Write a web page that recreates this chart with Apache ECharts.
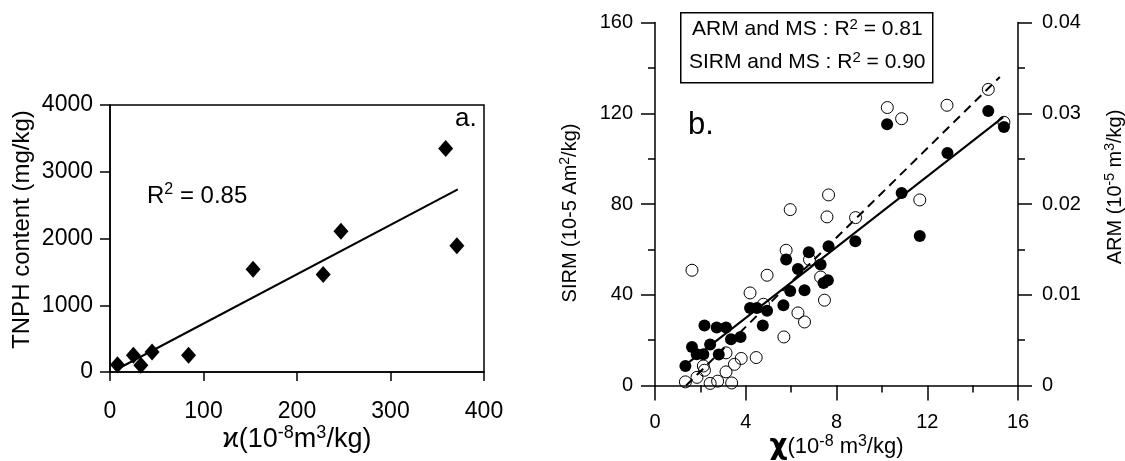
<!DOCTYPE html>
<html>
<head>
<meta charset="utf-8">
<script src="https://cdn.jsdelivr.net/npm/echarts@6/dist/echarts.min.js"></script>
<style>
  html, body { margin: 0; padding: 0; background: #fff; }
  #main { width: 1125px; height: 461px; }
</style>
</head>
<body>
<div id="main"></div>
<script>
// panel a: susceptibility vs TNPH
var kappaA = [8, 25, 33, 45, 84, 153, 228, 247, 359, 371];
var tnph = [110, 250, 100, 300, 250, 1540, 1460, 2110, 3350, 1890];
var fitAX = [8, 372];
var fitAY = [45, 2735];

// panel b: chi vs SIRM (filled) and ARM (open)
var chiSirm = [1.34, 1.63, 1.84, 2.13, 2.18, 2.43, 2.81, 2.72, 3.13, 3.35, 3.77, 4.19, 4.49, 4.94, 4.75, 5.66,
  5.78, 5.96, 6.30, 6.59, 6.78, 7.30, 7.43, 7.62, 7.65, 8.83, 11.67, 10.23, 10.87, 12.89, 14.69, 15.38];
var sirm = [8.6, 17.0, 13.8, 13.8, 26.4, 18.1, 13.7, 25.6, 25.6, 20.4, 21.4, 34.2, 34.2, 32.9, 26.4, 35.4,
  55.5, 41.7, 51.4, 42.0, 58.7, 53.3, 45.2, 46.4, 61.4, 63.6, 65.9, 115.1, 84.8, 102.5, 121.0, 113.9];
var chiArm = [1.63, 1.34, 1.85, 2.13, 2.18, 2.43, 2.76, 3.13, 3.13, 3.38, 3.50, 3.80, 4.46, 4.19, 4.78, 4.94,
  5.68, 5.78, 5.96, 6.30, 6.59, 6.81, 7.30, 7.47, 7.58, 8.84, 11.67, 7.65, 10.24, 10.87, 12.87, 14.69, 15.38];
var arm = [0.0127, 0.0004, 0.0009, 0.00215, 0.00168, 0.00023, 0.00048, 0.0015, 0.0036, 0.00028, 0.00233, 0.00298,
  0.00308, 0.0102, 0.00895, 0.01215, 0.00535, 0.0149, 0.01938, 0.008, 0.007, 0.01388, 0.01195, 0.0094, 0.01858,
  0.0185, 0.02045, 0.021, 0.03063, 0.0294, 0.03088, 0.03263, 0.029];
var fitSirmX = [1.5, 15.35];
var fitSirmY = [10.3, 118.3];
var fitArmX = [1.37, 15.2];
var fitArmY = [0, 0.034];

var xTicksA = [0, 400, 100];
var yTicksA = [0, 4000, 1000];
var xTicksB = [0, 16, 4];
var sirmTicks = [0, 160, 40];
var armTicks = [0, 0.04, 0.01];

function pairs(xs, ys) {
  return xs.map(function (x, i) { return [x, ys[i]]; });
}

var font = 'Liberation Sans, Arial, sans-serif';
var black = '#000';

var supRich = function (size, supSize, chiSize) {
  return {
    n: { fontSize: size, fontFamily: font, color: black, lineHeight: size + 4 },
    sup: { fontSize: supSize, fontFamily: font, color: black, verticalAlign: 'top', lineHeight: supSize },
    chi: { fontSize: chiSize || size, fontWeight: 'bold', fontFamily: 'DejaVu Sans, sans-serif', color: black, lineHeight: size + 4 }
  };
};

var chart = echarts.init(document.getElementById('main'));

var option = {
  animation: false,
  backgroundColor: '#fff',
  textStyle: { fontFamily: font, color: black },
  grid: [
    { left: 110, top: 105, width: 374, height: 267, outerBoundsMode: 'none', containLabel: false,
      show: true, borderColor: black, borderWidth: 1.5, backgroundColor: 'transparent' },
    { left: 655, top: 22.5, width: 363, height: 363, outerBoundsMode: 'none', containLabel: false }
  ],
  xAxis: [
    {
      gridIndex: 0, type: 'value', min: xTicksA[0], max: xTicksA[1], interval: xTicksA[2],
      axisLine: { lineStyle: { color: black, width: 1.5 } },
      axisTick: { length: 9, lineStyle: { color: black, width: 1.5 } },
      splitLine: { show: false },
      axisLabel: { fontSize: 23, color: black, margin: 28, fontFamily: font },
      name: '{n|ϰ(10}{sup|-8}{n|m}{sup|3}{n|/kg)}',
      nameLocation: 'middle', nameGap: 52, nameMoveOverlap: false,
      nameTextStyle: { rich: supRich(27, 18, 27) }
    },
    {
      gridIndex: 1, type: 'value', min: xTicksB[0], max: xTicksB[1], interval: xTicksB[2],
      axisLine: { lineStyle: { color: black, width: 1.5 } },
      axisTick: { length: 15, lineStyle: { color: black, width: 1.5 } },
      minorTick: { show: true, splitNumber: 2, length: 7, lineStyle: { color: black, width: 1.5 } },
      splitLine: { show: false },
      axisLabel: { fontSize: 20, color: black, margin: 27, fontFamily: font },
      name: '{chi|χ}{n|(10}{sup|-8}{n| m}{sup|3}{n|/kg)}',
      nameLocation: 'middle', nameGap: 48, nameMoveOverlap: false,
      nameTextStyle: { rich: supRich(22, 16, 28) }
    }
  ],
  yAxis: [
    {
      gridIndex: 0, type: 'value', min: yTicksA[0], max: yTicksA[1], interval: yTicksA[2],
      axisLine: { lineStyle: { color: black, width: 1.5 } },
      axisTick: { length: 10, lineStyle: { color: black, width: 1.5 } },
      splitLine: { show: false },
      axisLabel: { fontSize: 23, color: black, margin: 17, fontFamily: font, formatter: function (v) { return String(v); } },
      name: 'TNPH content (mg/kg)',
      nameLocation: 'middle', nameGap: 76, nameMoveOverlap: false,
      nameTextStyle: { fontSize: 24, color: black, fontFamily: font, padding: [0, 0, 0, 18] }
    },
    {
      gridIndex: 1, type: 'value', position: 'left', min: sirmTicks[0], max: sirmTicks[1], interval: sirmTicks[2],
      axisLine: { lineStyle: { color: black, width: 1.5 } },
      axisTick: { length: 14, lineStyle: { color: black, width: 1.5 } },
      minorTick: { show: true, splitNumber: 2, length: 7, lineStyle: { color: black, width: 1.5 } },
      splitLine: { show: false },
      axisLabel: { fontSize: 20, color: black, margin: 22, fontFamily: font },
      name: '{n|SIRM (10-5 Am}{sup|2}{n|/kg)}',
      nameLocation: 'middle', nameGap: 73, nameMoveOverlap: false,
      nameTextStyle: { rich: supRich(20, 14), padding: [0, 18, 0, 0] }
    },
    {
      gridIndex: 1, type: 'value', position: 'right', min: armTicks[0], max: armTicks[1], interval: armTicks[2],
      axisLine: { lineStyle: { color: black, width: 1.5 } },
      axisTick: { length: 14, lineStyle: { color: black, width: 1.5 } },
      minorTick: { show: true, splitNumber: 2, length: 7, lineStyle: { color: black, width: 1.5 } },
      splitLine: { show: false },
      axisLabel: {
        fontSize: 20, color: black, margin: 24, fontFamily: font,
        formatter: function (v) { return v === 0 ? '0' : v.toFixed(2); }
      },
      name: '{n|ARM (10}{sup|-5}{n| m}{sup|3}{n|/kg)}',
      nameLocation: 'middle', nameGap: 85, nameMoveOverlap: false,
      nameTextStyle: { rich: supRich(20, 14), padding: [0, 0, 0, 34] }
    }
  ],
  graphic: [
    {
      type: 'text', left: 147, top: 182,
      style: {
        text: '{n|R}{sup|2}{n| = 0.85}',
        rich: supRich(24, 16)
      }
    },
    {
      type: 'text', left: 455, top: 106,
      style: { text: 'a.', fontSize: 26, fontFamily: font, fill: black }
    },
    {
      type: 'text', left: 688, top: 110,
      style: { text: 'b.', fontSize: 31, fontFamily: font, fill: black }
    },
    {
      type: 'rect', left: 680, top: 12, z: 10,
      shape: { width: 252, height: 70 },
      style: { fill: '#fff', stroke: black, lineWidth: 1.5 }
    },
    {
      type: 'text', left: 692, top: 17, z: 11,
      style: { text: '{n|ARM and MS : R}{sup|2}{n| = 0.81}', rich: supRich(21, 15) }
    },
    {
      type: 'text', left: 689, top: 50, z: 11,
      style: { text: '{n|SIRM and MS : R}{sup|2}{n| = 0.90}', rich: supRich(21, 15) }
    }
  ],
  series: [
    {
      name: 'TNPH', type: 'scatter', xAxisIndex: 0, yAxisIndex: 0,
      symbol: 'diamond', symbolSize: [15, 17],
      itemStyle: { color: black, opacity: 1 },
      data: pairs(kappaA, tnph)
    },
    {
      name: 'TNPH fit', type: 'line', xAxisIndex: 0, yAxisIndex: 0,
      showSymbol: false, symbol: 'none',
      lineStyle: { color: black, width: 2 },
      data: pairs(fitAX, fitAY)
    },
    {
      name: 'ARM', type: 'scatter', xAxisIndex: 1, yAxisIndex: 2,
      symbol: 'circle', symbolSize: 12,
      itemStyle: { color: 'rgba(255,255,255,0)', borderColor: black, borderWidth: 1, opacity: 1 },
      data: pairs(chiArm, arm)
    },
    {
      name: 'SIRM', type: 'scatter', xAxisIndex: 1, yAxisIndex: 1,
      symbol: 'circle', symbolSize: 12,
      itemStyle: { color: black, opacity: 1 },
      data: pairs(chiSirm, sirm)
    },
    {
      name: 'SIRM fit', type: 'line', xAxisIndex: 1, yAxisIndex: 1,
      showSymbol: false, symbol: 'none',
      lineStyle: { color: black, width: 2 },
      data: pairs(fitSirmX, fitSirmY)
    },
    {
      name: 'ARM fit', type: 'line', xAxisIndex: 1, yAxisIndex: 2,
      showSymbol: false, symbol: 'none',
      lineStyle: { color: black, width: 2, type: [9, 6] },
      data: pairs(fitArmX, fitArmY)
    }
  ]
};

chart.setOption(option);
</script>
</body>
</html>
